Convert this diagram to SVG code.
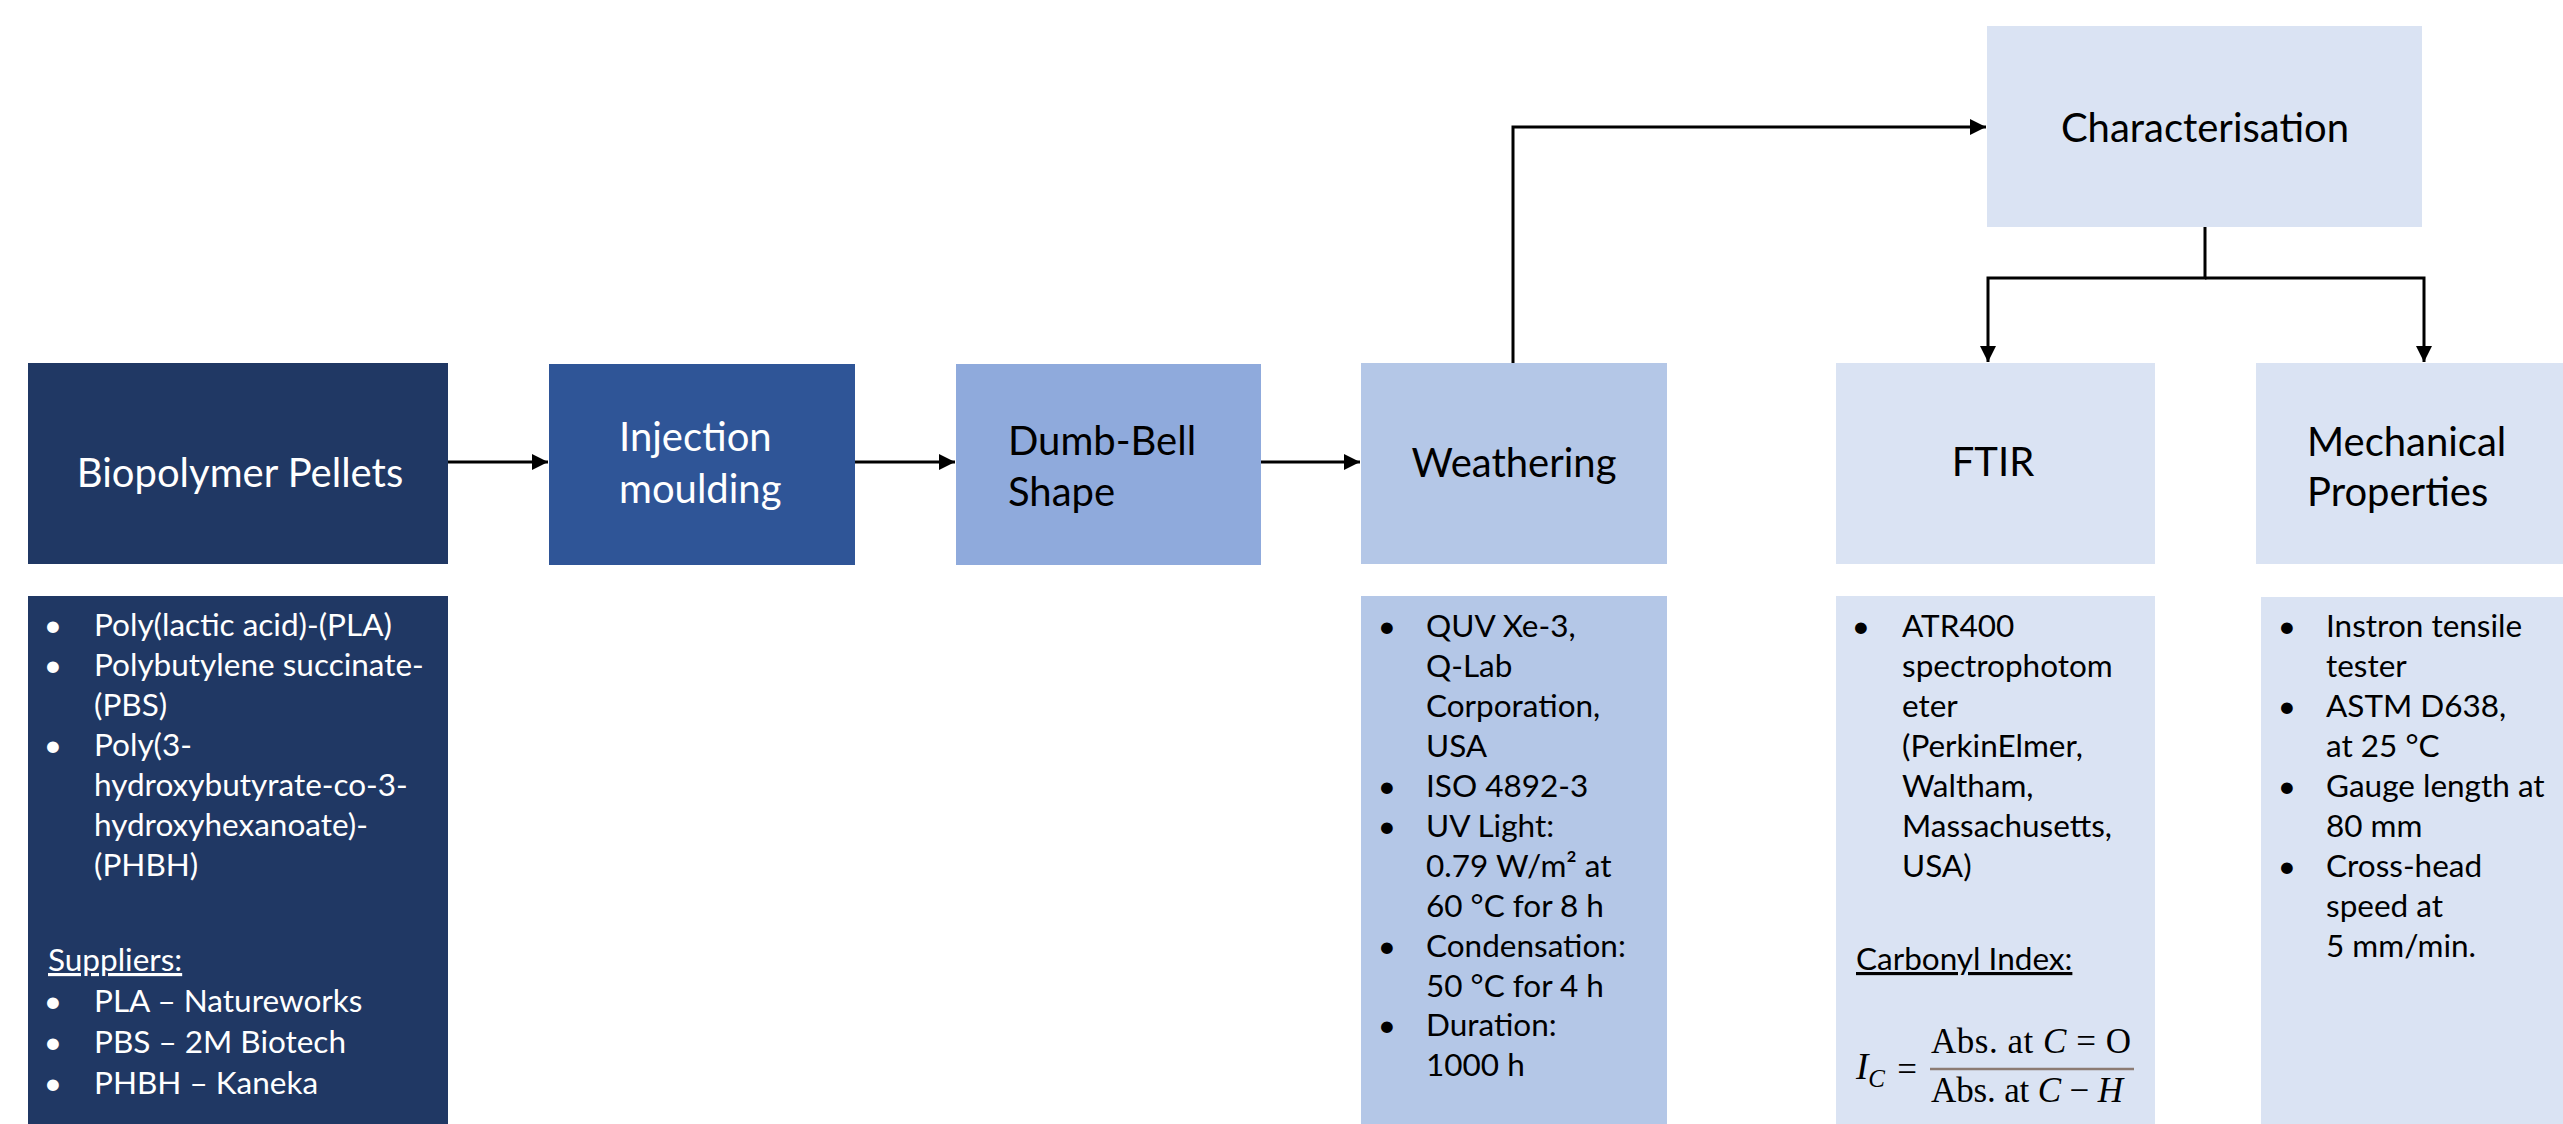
<svg xmlns="http://www.w3.org/2000/svg" width="2563" height="1124" viewBox="0 0 2563 1124">
<defs>
<style>
.hd{font-family:Lato,"Liberation Sans",sans-serif;font-size:40px}
.bd{font-family:Lato,"Liberation Sans",sans-serif;font-size:31.5px}
.w{fill:#ffffff}
.k{fill:#000000}
.mid{text-anchor:middle}
.conn{fill:none;stroke:#000;stroke-width:3}
.math{font-family:"Liberation Serif","DejaVu Serif",serif;font-size:35px;fill:#000}
</style>
<marker id="arr" markerWidth="17" markerHeight="17" refX="16" refY="8" orient="auto" markerUnits="userSpaceOnUse">
<path d="M0,0 L16,8 L0,16 z" fill="#000"/>
</marker>
</defs>
<rect width="2563" height="1124" fill="#ffffff"/>

<g id="connectors">
<path class="conn" d="M448,462 H548" marker-end="url(#arr)"/>
<path class="conn" d="M855,462 H955" marker-end="url(#arr)"/>
<path class="conn" d="M1261,462 H1360" marker-end="url(#arr)"/>
<path class="conn" d="M1513,364 V127 H1986" marker-end="url(#arr)"/>
<path class="conn" d="M2205,227 V278 H1988 V362" marker-end="url(#arr)"/>
<path class="conn" d="M2205,278 H2424 V362" marker-end="url(#arr)"/>
</g>

<g id="biopolymer">
<rect x="28" y="363" width="420" height="201" fill="#203864"/>
<text class="hd w mid" x="240" y="487">Biopolymer Pellets</text>
</g>
<g id="biopolymer-details">
<rect x="28" y="596" width="420" height="528" fill="#203864"/>
<g class="bd w">
<text x="53" y="636" class="mid">•</text><text x="94" y="636">Poly(lactic acid)-(PLA)</text>
<text x="53" y="676" class="mid">•</text><text x="94" y="676">Polybutylene succinate-</text>
<text x="94" y="716">(PBS)</text>
<text x="53" y="756" class="mid">•</text><text x="94" y="756">Poly(3-</text>
<text x="94" y="796">hydroxybutyrate-co-3-</text>
<text x="94" y="836">hydroxyhexanoate)-</text>
<text x="94" y="876">(PHBH)</text>
<text x="48" y="971" text-decoration="underline">Suppliers:</text>
<text x="53" y="1012" class="mid">•</text><text x="94" y="1012">PLA – Natureworks</text>
<text x="53" y="1053" class="mid">•</text><text x="94" y="1053">PBS – 2M Biotech</text>
<text x="53" y="1094" class="mid">•</text><text x="94" y="1094">PHBH – Kaneka</text>
</g>
</g>

<g id="injection">
<rect x="549" y="364" width="306" height="201" fill="#2F5597"/>
<text class="hd w" x="619" y="451">Injection</text>
<text class="hd w" x="619" y="503">moulding</text>
</g>

<g id="dumbbell">
<rect x="956" y="364" width="305" height="201" fill="#8FAADC"/>
<text class="hd k" x="1008" y="455">Dumb-Bell</text>
<text class="hd k" x="1008" y="506">Shape</text>
</g>

<g id="weathering">
<rect x="1361" y="363" width="306" height="201" fill="#B4C7E7"/>
<text class="hd k mid" x="1514" y="477">Weathering</text>
</g>
<g id="weathering-details">
<rect x="1361" y="596" width="306" height="528" fill="#B4C7E7"/>
<g class="bd k">
<text x="1387" y="637" class="mid">•</text><text x="1426" y="637">QUV Xe-3,</text>
<text x="1426" y="677">Q-Lab</text>
<text x="1426" y="717">Corporation,</text>
<text x="1426" y="757">USA</text>
<text x="1387" y="797" class="mid">•</text><text x="1426" y="797">ISO 4892-3</text>
<text x="1387" y="837" class="mid">•</text><text x="1426" y="837">UV Light:</text>
<text x="1426" y="877">0.79 W/m² at</text>
<text x="1426" y="917">60 °C for 8 h</text>
<text x="1387" y="957" class="mid">•</text><text x="1426" y="957">Condensation:</text>
<text x="1426" y="997">50 °C for 4 h</text>
<text x="1387" y="1036" class="mid">•</text><text x="1426" y="1036">Duration:</text>
<text x="1426" y="1076">1000 h</text>
</g>
</g>

<g id="characterisation">
<rect x="1987" y="26" width="435" height="201" fill="#DAE3F3"/>
<text class="hd k mid" x="2205" y="142">Characterisation</text>
</g>

<g id="ftir">
<rect x="1836" y="363" width="319" height="201" fill="#DAE3F3"/>
<text class="hd k mid" x="1993" y="476">FTIR</text>
</g>
<g id="ftir-details">
<rect x="1836" y="596" width="319" height="528" fill="#DAE3F3"/>
<g class="bd k">
<text x="1861" y="637" class="mid">•</text><text x="1902" y="637">ATR400</text>
<text x="1902" y="677">spectrophotom</text>
<text x="1902" y="717">eter</text>
<text x="1902" y="757">(PerkinElmer,</text>
<text x="1902" y="797">Waltham,</text>
<text x="1902" y="837">Massachusetts,</text>
<text x="1902" y="877">USA)</text>
<text x="1856" y="970" text-decoration="underline">Carbonyl Index:</text>
</g>
<g class="math">
<text x="1856" y="1079" font-size="37" font-style="italic">I<tspan font-size="25" dy="8">C</tspan></text>
<text x="1907" y="1081" class="mid">=</text>
<text x="1931" y="1053" textLength="200" lengthAdjust="spacing">Abs. at <tspan font-style="italic">C</tspan> = O</text>
<line x1="1930" y1="1069" x2="2134" y2="1069" stroke="#8C7B73" stroke-width="2.5"/>
<text x="1931" y="1102" textLength="192" lengthAdjust="spacing">Abs. at <tspan font-style="italic">C</tspan> − <tspan font-style="italic">H</tspan></text>
</g>
</g>

<g id="mechanical">
<rect x="2256" y="363" width="307" height="201" fill="#DAE3F3"/>
<text class="hd k" x="2307" y="456">Mechanical</text>
<text class="hd k" x="2307" y="506">Properties</text>
</g>
<g id="mechanical-details">
<rect x="2261" y="597" width="302" height="527" fill="#DAE3F3"/>
<g class="bd k">
<text x="2287" y="637" class="mid">•</text><text x="2326" y="637">Instron tensile</text>
<text x="2326" y="677">tester</text>
<text x="2287" y="717" class="mid">•</text><text x="2326" y="717">ASTM D638,</text>
<text x="2326" y="757">at 25 °C</text>
<text x="2287" y="797" class="mid">•</text><text x="2326" y="797">Gauge length at</text>
<text x="2326" y="837">80 mm</text>
<text x="2287" y="877" class="mid">•</text><text x="2326" y="877">Cross-head</text>
<text x="2326" y="917">speed at</text>
<text x="2326" y="957">5 mm/min.</text>
</g>
</g>
</svg>
